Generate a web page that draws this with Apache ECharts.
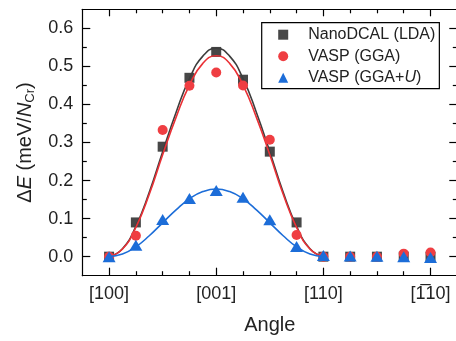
<!DOCTYPE html>
<html>
<head>
<meta charset="utf-8">
<script src="https://cdn.jsdelivr.net/npm/echarts@6/dist/echarts.min.js"></script>
<style>html,body{margin:0;padding:0;background:#fff}#c{width:456px;height:341px}</style>
</head>
<body>
<div id="c"></div>
<script>
// Data
const angles = [0, 22.5, 45, 67.5, 90, 112.5, 135, 157.5, 180, 202.5, 225, 247.5, 270];
const ldaE  = [0.000, 0.090, 0.289, 0.470, 0.538, 0.465, 0.276, 0.090, 0.000, 0.000, 0.000, 0.000, 0.000];
const ggaE  = [0.000, 0.055, 0.333, 0.449, 0.484, 0.450, 0.307, 0.057, 0.000, 0.000, 0.000, 0.008, 0.011];
const ggauE = [0.000, 0.030, 0.098, 0.153, 0.174, 0.156, 0.097, 0.027, 0.003, 0.002, 0.001, 0.000, -0.002];

const fitAngles = [0, 11.25, 22.5, 33.75, 45, 56.25, 67.5, 78.75, 90, 101.25, 112.5, 123.75, 135, 146.25, 157.5, 168.75, 180];
const ldaFit  = [0, 0.021, 0.080, 0.169, 0.276, 0.379, 0.468, 0.527, 0.548, 0.527, 0.468, 0.379, 0.276, 0.169, 0.080, 0.021, 0];
const ggaFit  = [0, 0.020, 0.077, 0.164, 0.268, 0.366, 0.451, 0.508, 0.528, 0.508, 0.451, 0.366, 0.268, 0.164, 0.077, 0.020, 0];
const ggauFit = [0, 0.007, 0.026, 0.055, 0.089, 0.123, 0.152, 0.171, 0.178, 0.171, 0.152, 0.123, 0.089, 0.055, 0.026, 0.007, 0];

const xMajorVals = [0, 90, 180, 270];
const xTickLabels = ['[100]', '[001]', '[110]', '[1\u030510]'];
const xMinorVals = [22.5, 45, 67.5, 112.5, 135, 157.5, 202.5, 225, 247.5];
const yMajorVals = [0, 0.1, 0.2, 0.3, 0.4, 0.5, 0.6];
const yMinorVals = [0.05, 0.15, 0.25, 0.35, 0.45, 0.55];

const seriesNames = ['NanoDCAL (LDA)', 'VASP (GGA)', 'VASP (GGA+U)'];

const FONT = "'Liberation Sans', Arial, sans-serif";
const XMIN = -22.5, XMAX = 292.5, YMIN = -0.05, YMAX = 0.65;

function pairs(xs, ys) { return xs.map((x, i) => [x, ys[i]]); }

function xAx(pos, vals, len, showLine, labels) {
  return {
    type: 'value', position: pos, min: XMIN, max: XMAX,
    axisLine: { show: showLine, onZero: false, lineStyle: { color: '#000', width: 1.2 } },
    axisTick: { show: true, inside: true, length: len, customValues: vals, lineStyle: { color: '#000', width: 1.2 } },
    axisLabel: labels ? {
      show: true, customValues: xMajorVals, margin: 9, color: '#222', fontSize: 18, fontFamily: FONT,
      formatter: v => xTickLabels[xMajorVals.indexOf(v)]
    } : { show: false },
    splitLine: { show: false }
  };
}
function yAx(pos, vals, len, showLine, labels) {
  return {
    type: 'value', position: pos, min: YMIN, max: YMAX,
    axisLine: { show: showLine, onZero: false, lineStyle: { color: '#000', width: 1.2 } },
    axisTick: { show: true, inside: true, length: len, customValues: vals, lineStyle: { color: '#000', width: 1.2 } },
    axisLabel: labels ? {
      show: true, customValues: yMajorVals, margin: 9, color: '#222', fontSize: 18, fontFamily: FONT,
      formatter: v => v.toFixed(1)
    } : { show: false },
    splitLine: { show: false }
  };
}

const xAxes = [
  xAx('bottom', xMajorVals, 8, true, true),
  xAx('bottom', xMinorVals, 4.5, false, false),
  xAx('top', xMajorVals, 7, true, false),
  xAx('top', xMinorVals, 4, false, false)
];
Object.assign(xAxes[0], {
  name: 'Angle', nameLocation: 'middle', nameGap: 40,
  nameTextStyle: { fontSize: 20, color: '#222', fontFamily: FONT }
});
const yAxes = [
  yAx('left', yMajorVals, 8, true, true),
  yAx('left', yMinorVals, 4.5, false, false),
  yAx('right', yMajorVals, 8, true, false),
  yAx('right', yMinorVals, 4.5, false, false)
];
Object.assign(yAxes[0], {
  name: '{a|\u0394}{i|E}{a| (meV/}{i|N}{s|Cr}{a|)}', nameLocation: 'middle', nameGap: 44,
  nameTextStyle: {
    fontSize: 20, color: '#222', fontFamily: FONT,
    rich: {
      a: { fontSize: 20, color: '#222', fontFamily: FONT },
      i: { fontSize: 20, color: '#222', fontFamily: FONT, fontStyle: 'italic' },
      s: { fontSize: 13, color: '#222', fontFamily: FONT, verticalAlign: 'bottom', padding: [10, 0, 0, 0] }
    }
  }
});

const chart = echarts.init(document.getElementById('c'), null, { renderer: 'canvas' });
chart.setOption({
  animation: false,
  backgroundColor: '#fff',
  grid: { left: 82.3, right: -1.3, top: 9.3, bottom: 65.3, containLabel: false, outerBoundsMode: 'none' },
  xAxis: xAxes,
  yAxis: yAxes,
  legend: {
    orient: 'vertical', left: 261.7, top: 22.7,
    data: seriesNames,
    borderColor: '#000', borderWidth: 1.2, borderRadius: 0, backgroundColor: '#fff',
    padding: [4, 4, 3, 16.5], itemGap: 5.5, itemWidth: 10, itemHeight: 10,
    textStyle: {
      fontSize: 16, color: '#222', fontFamily: FONT, padding: [0, 0, 0, 15],
      rich: { i: { fontSize: 16, color: '#222', fontFamily: FONT, fontStyle: 'italic' } }
    },
    formatter: n => n === 'VASP (GGA+U)' ? 'VASP (GGA+{i|U})' : n
  },
  series: [
    { name: seriesNames[0], type: 'scatter', z: 2, symbol: 'rect', symbolSize: 10,
      itemStyle: { color: '#474747', opacity: 1 }, data: pairs(angles, ldaE) },
    { name: 'fitLDA', type: 'line', z: 3, smooth: true, symbol: 'none', showSymbol: false,
      lineStyle: { color: '#3d3d3d', width: 1.6 }, data: pairs(fitAngles, ldaFit) },
    { name: 'fitGGA', type: 'line', z: 4, smooth: true, symbol: 'none', showSymbol: false,
      lineStyle: { color: '#ea3035', width: 1.6 }, data: pairs(fitAngles, ggaFit) },
    { name: seriesNames[1], type: 'scatter', z: 5, symbol: 'circle', symbolSize: 10,
      itemStyle: { color: '#ef3e42', opacity: 1 }, data: pairs(angles, ggaE) },
    { name: 'fitGGAU', type: 'line', z: 6, smooth: true, symbol: 'none', showSymbol: false,
      lineStyle: { color: '#1c6dd8', width: 1.6 }, data: pairs(fitAngles, ggauFit) },
    { name: seriesNames[2], type: 'scatter', z: 7, symbol: 'triangle', symbolSize: [13, 11],
      itemStyle: { color: '#1c6dd8', opacity: 1 }, data: pairs(angles, ggauE) }
  ]
});
</script>
</body>
</html>
